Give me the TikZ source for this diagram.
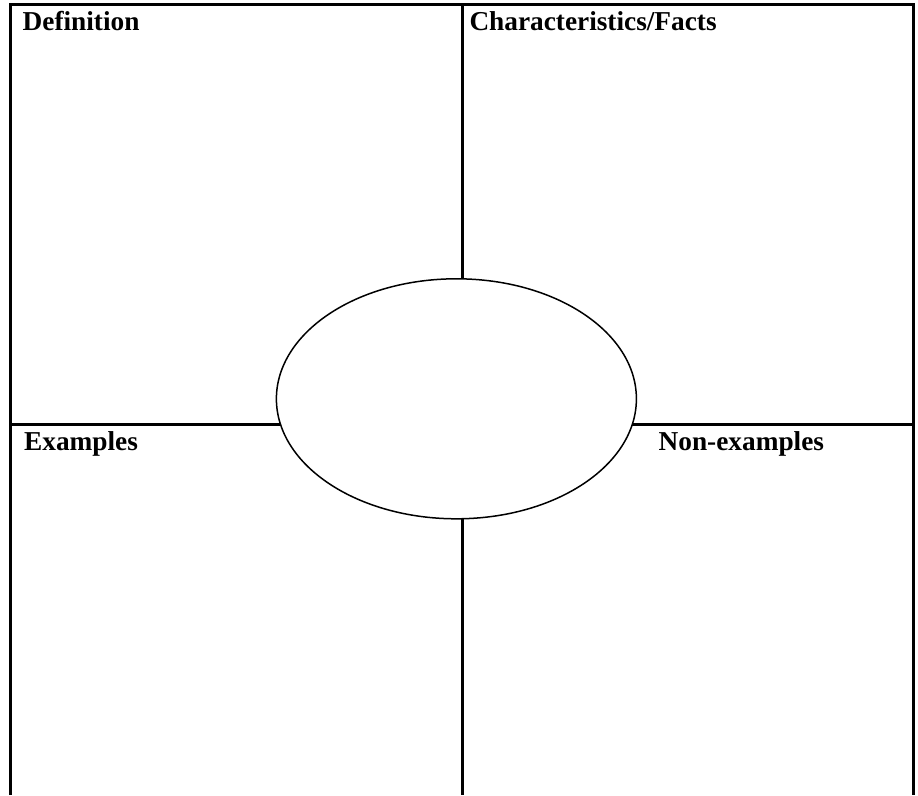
\documentclass[tikz,border=0pt]{standalone}
\usepackage{fontspec}
\setmainfont{Liberation Serif}
\usetikzlibrary{shapes.geometric}
\begin{document}
\begin{tikzpicture}[x=1pt,y=-1pt,
  border/.style={line width=3pt,line cap=butt},
  label/.style={anchor=base west,inner sep=0pt,font=\fontsize{27.3}{30}\selectfont\bfseries},
  oval/.style={ellipse,draw,fill=white,line width=1.5pt,minimum width=360pt,minimum height=240pt,inner sep=0pt}]
\useasboundingbox (0,0) rectangle (918,795);
\coordinate (TL) at (10.5,4.5);
\coordinate (TR) at (913.5,4.5);
\coordinate (BL) at (10.5,795);
\coordinate (BR) at (913.5,795);
\coordinate (TM) at (462.5,4.5);
\coordinate (BM) at (462.5,795);
\coordinate (ML) at (10.5,424.5);
\coordinate (MR) at (913.5,424.5);
\draw[border] (BL) -- (TL) -- (TR) -- (BR);
\draw[border] (TM) -- (BM);
\draw[border] (ML) -- (MR);
\node[oval] (center) at (456.4,398.8) {};
\node[label] (def) at (22.5,30.5) {Definition};
\node[label] (char) at (469.3,30.5) {Characteristics/Facts};
\node[label] (ex) at (24,450) {Examples};
\node[label] (nonex) at (658.5,450) {Non-examples};
\end{tikzpicture}
\end{document}
